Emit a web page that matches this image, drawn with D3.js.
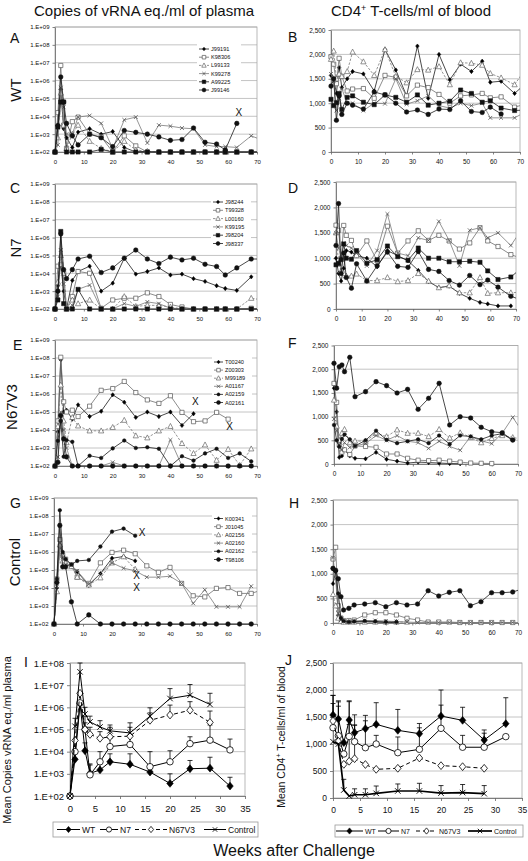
<!DOCTYPE html>
<html><head><meta charset="utf-8">
<script src="https://cdn.jsdelivr.net/npm/d3@7"></script>
<style>body{margin:0;background:#fff}svg{display:block}</style>
</head><body>
<svg id="chart" width="528" height="861"></svg>
<script>
// ---------------- DATA ----------------
const weeksAD = [0,1,2,3,4,6,8,12,16,20,24,28,32,36,40,44,48,52,56,59,63,68,72];
const weeksEH = [0,1,2,3,4,6,8,12,16,20,24,28,32,36,40,44,48,52,56,60,64,68,72];
const weeksMean = [0,1,2,3,4,6,8,12,16,20,24,28,32];

const logTicks = [1e2,1e3,1e4,1e5,1e6,1e7,1e8,1e9];
const meanLogTicks = [1e2,1e3,1e4,1e5,1e6,1e7,1e8];
const cd4Ticks = [0,500,1000,1500,2000,2500];
const weekTicks70 = [0,10,20,30,40,50,60,70];
const weekTicks35 = [0,5,10,15,20,25,30,35];

const namesA = ["J99191","K98306","L99133","K99278","A99225","J99146"];
const namesC = ["J98244","T99328","L00160","K99195","J98204","J98337"];
const namesE = ["T00240","Z00303","M99189","A01167","A02159","A02161"];
const namesG = ["K00341","J01045","A02156","A02160","A02162","T98106"];
const groupNames = ["WT","N7","N67V3","Control"];

// A: WT viral load
const A_J99191 = [100,3200,3.2e5,2000,630,180,1300,2000,1000,1400,180,100,110,100,100,100,100,100,100,100,100,100,100];
const A_K98306 = [100,1.6e4,7e6,3200,160,5000,9000,1000,700,100,800,220,100,100,100,100,100,100,100,100,100,100,100];
const A_L99133 = [100,630,2e5,3200,160,1000,3200,400,160,100,400,130,110,100,100,100,100,100,100,100,100,100,100];
const A_K99278 = [100,250,4e5,3.2e4,1000,1000,9000,1.1e4,4000,160,6300,9000,320,3200,2800,2200,2000,250,200,200,180,800,450];
const A_A99225 = [100,2500,6.3e4,6.3e4,100,100,100,100,140,100,100,100,100,100,100,100,100,100,100,100,100,100,100];
const A_J99146 = [100,3000,1.6e6,6.3e4,4000,800,250,1000,630,200,1600,1260,1000,700,450,500,2200,350,280,130,4000];
const A_deaths_w = [63.7];
const A_deaths_v = [1.6e4];

// B: WT CD4
const B_J99191 = [1570,1500,1200,1730,1320,1500,1650,1600,1250,2100,1680,1150,2170,1100,2000,1480,1800,1650,1860,1430,1450,1200,1400];
const B_K98306 = [1950,1800,1400,1920,1550,1250,1290,1300,1100,1570,1530,1150,1370,1320,1180,1000,1150,1170,1200,1110,1130,920,980];
const B_L99133 = [1900,2070,1500,1600,1550,1650,2050,1850,1570,2100,1550,1420,1690,1680,1750,1380,1830,1820,1780,1610,1520,1380,1700];
const B_K99278 = [1600,1450,850,1100,1300,1000,1000,850,1000,990,1500,980,1050,1150,950,900,1000,950,1000,700,700,700,820];
const B_A99225 = [1080,950,1010,1200,870,1120,1150,1020,970,1170,1120,1020,1170,960,1000,1040,1270,1200,1020,1050,900,850,860];
const B_J99146 = [1350,1500,650,1150,770,1000,960,880,1230,1170,1000,820,860,770,880,870,1050,830,810,920,780];

// C: N7 viral load
const C_J98244 = [100,2000,3.2e4,1000,100,4000,1.26e4,2.5e4,1000,2800,7e4,9000,1.26e4,2e4,8000,9000,5000,3500,2000,1400,1100,6300];
const C_T99328 = [100,2.5e4,3.2e4,1e4,100,500,1.26e4,1e4,110,320,400,400,800,500,180,130,100,100,100,100,100,110,100];
const C_L00160 = [100,3200,1e5,1e4,100,320,200,320,100,100,500,140,160,160,130,100,100,100,100,100,100,400,320];
const C_K99195 = [100,500,2e5,2500,100,160,1260,2200,100,100,200,140,250,200,110,100,100,100,100,100,100,100,100];
const C_J98204 = [100,320,2.2e6,200,100,100,1260,100,100,100,100,100,100,100,100,100,100,100,100,100,100,100,100];
const C_J98337 = [100,1000,1.6e6,1.6e4,5000,1.6e4,6.3e4,9e4,1.1e4,2e4,7e4,2e5,6.3e4,3.5e4,8e4,5.6e4,7e4,3.2e4,2.4e4,8000,2e4,6.3e4,6.3e4];

// D: N7 CD4
const D_J98244 = [1000,700,550,800,1150,1120,1050,1000,830,1150,1050,950,760,540,420,450,310,210,130,100,60,60];
const D_T99328 = [1650,1550,1000,1645,1450,1350,1050,1340,950,1630,1100,1340,1540,1350,1450,1340,1180,1300,1600,1340,1230,1070,1000];
const D_L00160 = [1500,900,750,700,650,650,690,560,560,620,540,560,700,550,420,460,320,320,620,310,320,320,330];
const D_K99195 = [1500,1200,1000,1300,1250,1200,1100,850,1150,1870,1100,1050,1400,1350,1725,1350,850,1550,1600,1400,1500,1250,1550];
const D_J98204 = [870,900,970,1280,1000,980,1150,900,970,1240,1030,960,1200,1000,1000,930,930,940,920,750,580,630,800];
const D_J98337 = [1250,2075,700,1100,620,410,890,550,850,1120,840,820,1130,780,740,560,470,660,480,570,430,250,180];

// E: N67V3 viral load
const E_T00240 = [100,8000,8e7,1e5,1.26e5,4e4,2.5e5,5.6e4,1.1e5,9e5,3.5e5,5e4,1e5,5.6e4,1e5,1.8e4,8e4];
const E_Z00303 = [100,3.2e4,1.1e8,3.7e5,1e5,1.26e5,5.6e4,2.1e5,1.6e6,2e6,5e6,1.2e6,4.7e5,3e5,8e5,9.5e4,2.9e4,3.2e4,9.5e4,4e4];
const E_M99189 = [100,1.6e4,3.2e6,3.2e4,2000,5e4,1.7e4,9000,9000,1.4e4,3.5e4,4800,3700,9000,1.6e4,1800,500,1500,210,850,110,900];
const E_A01167 = [100,320,1e5,1e4,1000,100,100,100,100,160,100,100,100,100,2800,100,100,100,100,100,100,100];
const E_A02159 = [100,2500,3.2e4,330,2800,2200,100,370,280,950,2600,1000,1100,900,100,350,200,500,900,280,500,180];
const E_A02161 = [100,160,6.3e4,3200,320,100,100,100,100,100,100,100,100,100,100,100,100,100,100,100,100,100];
const E_deaths_w = [48.6, 60.5];
const E_deaths_v = [3.7e5, 1.6e4];

// F: N67V3 CD4
const F_T00240 = [1600,1100,140,170,300,170,120,110,246,100,60,20,40,30,20,10,5];
const F_Z00303 = [1700,1300,400,250,300,200,380,370,352,211,211,120,80,70,80,60,40,20,15,10];
const F_M99189 = [1350,800,500,650,731,450,485,480,648,580,720,650,650,580,731,550,660,560,450,540,600,560,520];
const F_A01167 = [950,700,400,300,450,350,380,430,600,500,600,480,450,330,480,370,290,580,490,430,650,985,650];
const F_A02159 = [823,500,365,530,620,520,380,500,703,510,440,480,520,440,600,420,600,580,520,600,640,500];
const F_A02161 = [2124,1600,2053,2089,1948,2251,1420,1526,1737,1653,1498,1575,1154,1386,1702,823,998,970,774,681,660,506];

// G: Control viral load
const G_K00341 = [100,1e4,2e6,8e5,2e5,1.6e5,8e4,1.4e4,6.3e4,4.5e5,5.6e5,3.2e5];
const G_J01045 = [100,3.2e4,5e6,6.3e5,4e5,2e5,4e4,1.8e4,2.5e5,9.5e5,1.26e6,8e5,1.7e5,7.4e4,1.4e5,1.8e4,3700,3200,9500,1.05e4,5000,5000,8000];
const G_A02156 = [100,6300,2.5e6,3.2e5,2.5e5,1.6e5,4e4,1.5e4,3.7e4,2.5e5,5.5e5,1.1e5];
const G_A02160 = [100,1.6e4,3.2e6,5e5,2e5,1.8e5,9e4,1.6e4,6.3e4,2.5e5,1.26e5,9e4,4e4,4e4,4.5e4,1.8e4,1400,8000,900,900,900,1.26e4];
const G_A02162 = [100,3.2e4,2.1e8,1e6,4e5,2e5,3.2e5,3.6e5,2e6,1.35e7,2e7,8e6];
const G_T98106 = [100,2e4,3e7,1.5e5,1.5e5,1700,100,320,100,100,100,100,100,100,100,100,100,100,100,100,100,100];
const G_deaths_w = [30.4, 28.5, 28.5];
const G_deaths_v = [1.2e7, 5.2e4, 1.15e4];

// H: Control CD4
const H_K00341 = [800,1050,150,30,20,20,20,30,20,10,10];
const H_J01045 = [1300,1539,350,100,50,50,60,163,209,209,163,96,61,20,20,20,10,10,10,10,10,10];
const H_A02156 = [580,350,100,30,20,20,20,20,20,20,20,20];
const H_A02160 = [1330,900,200,60,30,20,40,50,50,40,30,20,10,10,10,10,10,10,10,10,10,10,10];
const H_A02162 = [1100,1050,600,100,40,20,30,40,30,20,20];
const H_T98106 = [1111,1070,900,535,264,298,366,386,413,331,413,366,386,657,549,623,657,352,433,616,616,630,700];

// I: mean viral load (with upper error)
const I_WT = [100,4500,1.5e6,1.1e4,1050,1500,3500,2700,1200,370,1700,1800,280];
const I_WT_err = [null,null,null,2.5e4,2500,3200,8000,8000,2500,1000,4000,5600,700];
const I_N7 = [100,1e4,1.6e6,1e5,900,3500,1.7e4,2.1e4,2100,3500,2.3e4,3.3e4,1.2e4];
const I_N7_err = [null,null,null,2e5,2800,1e4,4e4,5e4,1e4,1.1e4,4.7e4,1.6e5,3.7e4];
const I_N67V3 = [100,3.2e4,4.3e6,1e5,6e4,4e4,4.7e4,5e4,2.6e5,4.5e5,7.4e5,2.1e5];
const I_N67V3_err = [null,null,null,4e5,1.26e5,8e4,1.26e5,1.26e5,5.6e5,1.26e6,1.8e6,6.8e5];
const I_Control = [100,1.4e5,4e7,5e5,2.2e5,1.3e5,8.7e4,7e4,4e5,2.5e6,3.5e6,1.35e6];
const I_Control_err = [null,3.2e5,1e8,1e6,4e5,2.5e5,1.6e5,2e5,9.5e5,7e6,1.07e7,4.3e6];

// J: mean CD4 (with upper error)
const J_WT = [1537,1463,1025,1444,1210,1284,1364,1253,1191,1518,1438,1074,1376];
const J_WT_err = [1900,1800,null,1784,1540,1530,1765,1640,1380,2000,1680,1260,1857];
const J_N7 = [1302,1154,815,1140,1043,932,1000,839,901,1290,940,940,1136];
const J_N7_err = [1750,1700,null,1360,1350,1430,1160,1130,1300,1720,1160,1200,null];
const J_N67V3 = [1426,1050,623,680,728,620,531,550,741,599,580,550];
const J_N67V3_err = [1900,1780,null,1800,1350];
const J_Control = [1043,1000,148,37,60,60,86,130,130,90,100,80];
const J_Control_err = [null,null,346,null,170,170,222,260,272,230,250,230];

// ---------------- STYLES ----------------
const FONT = "Arial, 'Liberation Sans', Helvetica, sans-serif";
const sDiam = {shape:"diamond", size:3.6, fill:"#000", stroke:"#000", sw:0.5, line:"#1a1a1a", lw:0.8};
const sOSq  = {shape:"square", size:4.2, fill:"#fff", stroke:"#555", sw:0.7, line:"#707070", lw:0.8};
const sOTri = {shape:"triangle", size:5, fill:"#fff", stroke:"#666", sw:0.7, line:"#7a7a7a", lw:0.8, dash:"2.5,1.5"};
const sX    = {shape:"x", size:3.8, fill:"none", stroke:"#555", sw:0.8, line:"#7a7a7a", lw:0.8};
const sFSq  = {shape:"square", size:4.2, fill:"#111", stroke:"#111", sw:0.5, line:"#1a1a1a", lw:0.8};
const sFCir = {shape:"circle", size:4.6, fill:"#111", stroke:"#111", sw:0.5, line:"#1a1a1a", lw:0.8};
const sFCirS= {shape:"circle", size:3.6, fill:"#111", stroke:"#111", sw:0.5, line:"#1a1a1a", lw:0.8};
const stylesAC = [sDiam, sOSq, sOTri, sX, sFSq, sFCir];
const stylesEG = [sDiam, sOSq, sOTri, sX, sFCirS, sFCir];
const meanStyles = [
  {shape:"diamond", size:6.5, fill:"#000", stroke:"#000", sw:0.6, line:"#000", lw:1},
  {shape:"circle", size:6.5, fill:"#fff", stroke:"#000", sw:0.8, line:"#000", lw:1},
  {shape:"diamond", size:6.5, fill:"#fff", stroke:"#000", sw:0.8, line:"#000", lw:1, dash:"4,3"},
  {shape:"x", size:5.5, fill:"none", stroke:"#000", sw:0.9, line:"#000", lw:1}
];

const svg = d3.select("#chart");
const defs = svg.append("defs");
const logFmt = v => "1.E+" + String(Math.round(Math.log10(v))).padStart(2, "0");
const cdFmt = d3.format(",");

function markerPath(shape, s) {
  const h = s / 2;
  switch (shape) {
    case "circle": return d3.symbol(d3.symbolCircle, Math.PI * h * h)();
    case "square": return `M${-h},${-h}H${h}V${h}H${-h}Z`;
    case "triangle": return `M0,${-h*1.15}L${h*1.05},${h*0.85}L${-h*1.05},${h*0.85}Z`;
    case "diamond": return `M0,${-h*1.2}L${h},0L0,${h*1.2}L${-h},0Z`;
    case "x": return `M${-h},${-h}L${h},${h}M${-h},${h}L${h},${-h}`;
  }
}

function drawSeries(body, x, y, weeks, values, st, xmax) {
  const pts = weeks.map((w, j) => ({w, v: (values[j] === undefined ? null : values[j])}));
  const line = d3.line().defined(d => d.v !== null).x(d => x(d.w)).y(d => y(d.v));
  body.append("path").datum(pts).attr("d", line).attr("fill", "none")
    .attr("stroke", st.line).attr("stroke-width", st.lw)
    .attr("stroke-dasharray", st.dash || null);
  body.append("g").selectAll("path").data(pts.filter(d => d.v !== null && d.w <= xmax)).join("path")
    .attr("d", markerPath(st.shape, st.size))
    .attr("transform", d => `translate(${x(d.w)},${y(d.v)})`)
    .attr("fill", st.fill).attr("stroke", st.stroke).attr("stroke-width", st.sw);
}

let clipId = 0;
function drawPanel(p) {
  const g = svg.append("g");
  const x = d3.scaleLinear().domain(p.xDomain).range([p.x0, p.x1]);
  const y = (p.log ? d3.scaleLog() : d3.scaleLinear()).domain(p.yDomain).range([p.y1, p.y0]);
  g.append("rect").attr("x", p.x0).attr("y", p.y0).attr("width", p.x1 - p.x0).attr("height", p.y1 - p.y0)
    .attr("fill", "#fff");
  g.append("g").selectAll("line").data(p.yTicks.slice(1)).join("line")
    .attr("x1", p.x0).attr("x2", p.x1).attr("y1", d => y(d)).attr("y2", d => y(d))
    .attr("stroke", "#c4c4c4").attr("stroke-width", 1);
  g.append("rect").attr("x", p.x0).attr("y", p.y0).attr("width", p.x1 - p.x0).attr("height", p.y1 - p.y0)
    .attr("fill", "none").attr("stroke", "#a8a8a8").attr("stroke-width", 0.8);
  const styleAxis = s => {
    s.selectAll("text").attr("font-size", p.fs).attr("font-family", FONT).attr("fill", "#111");
    s.select(".domain").attr("stroke", "#666").attr("stroke-width", 0.8);
    s.selectAll(".tick line").attr("stroke", "#666").attr("stroke-width", 0.8);
  };
  g.append("g").attr("transform", `translate(${p.x0},0)`)
    .call(d3.axisLeft(y).tickValues(p.yTicks).tickFormat(p.yFmt).tickSize(p.tick).tickPadding(p.pad).tickSizeOuter(0))
    .call(styleAxis);
  g.append("g").attr("transform", `translate(0,${p.y1})`)
    .call(d3.axisBottom(x).tickValues(p.xTicks).tickSize(p.tick).tickPadding(p.xpad).tickSizeOuter(0))
    .call(styleAxis);
  const id = "clip" + (clipId++);
  defs.append("clipPath").attr("id", id).append("rect")
    .attr("x", p.x0 - 6).attr("y", p.y0 - 12).attr("width", p.x1 - p.x0 + 6).attr("height", p.y1 - p.y0 + 20);
  const body = g.append("g").attr("clip-path", `url(#${id})`);
  p.series.forEach((vals, i) => {
    if (p.errors && p.errors[i]) {
      const errs = p.errors[i];
      const eg = body.append("g").attr("stroke", "#000").attr("stroke-width", 0.8);
      p.weeks.forEach((w, j) => {
        const e = errs[j];
        if (e === null || e === undefined || vals[j] === undefined || vals[j] === null) return;
        eg.append("line").attr("x1", x(w)).attr("x2", x(w)).attr("y1", y(vals[j])).attr("y2", y(e));
        eg.append("line").attr("x1", x(w) - 2.5).attr("x2", x(w) + 2.5).attr("y1", y(e)).attr("y2", y(e));
      });
    }
  });
  p.series.forEach((vals, i) => drawSeries(body, x, y, p.weeks, vals, p.styles[i], p.xDomain[1]));
  if (p.deathsW) {
    g.append("g").selectAll("text").data(p.deathsW).join("text")
      .attr("x", d => x(d)).attr("y", (d, i) => y(p.deathsV[i]) + 3.6)
      .attr("text-anchor", "middle").attr("font-family", FONT).attr("font-size", 10).attr("fill", "#111")
      .text("X");
  }
  if (p.legend) {
    const L = p.legend;
    const lg = g.append("g");
    lg.append("rect").attr("x", L.x - 2).attr("y", L.y - 5).attr("width", L.w).attr("height", L.step * p.names.length + 3)
      .attr("fill", "#fff");
    p.names.forEach((n, i) => {
      const st = p.styles[i];
      const yy = L.y + i * L.step;
      lg.append("line").attr("x1", L.x).attr("x2", L.x + L.len).attr("y1", yy).attr("y2", yy)
        .attr("stroke", st.line).attr("stroke-width", st.lw).attr("stroke-dasharray", st.dash || null);
      lg.append("path").attr("d", markerPath(st.shape, st.size * 0.85))
        .attr("transform", `translate(${L.x + L.len / 2},${yy})`)
        .attr("fill", st.fill).attr("stroke", st.stroke).attr("stroke-width", st.sw);
      lg.append("text").attr("x", L.x + L.len + 2).attr("y", yy + 2)
        .attr("font-family", FONT).attr("font-size", 5.6).attr("fill", "#111").text(n);
    });
  }
  return {x, y};
}

const leftBase = {xDomain:[0,70], xTicks:weekTicks70, log:true, yDomain:[1e2,1e9], yTicks:logTicks, yFmt:logFmt,
  fs:6, tick:2.5, pad:3, xpad:5};
const rightBase = {xDomain:[0,70], xTicks:weekTicks70, log:false, yDomain:[0,2500], yTicks:cd4Ticks, yFmt:cdFmt,
  fs:6.5, tick:2.5, pad:3, xpad:5};

drawPanel({...leftBase, x0:55, x1:257, y0:27, y1:152, weeks:weeksAD, styles:stylesAC, names:namesA,
  series:[A_J99191,A_K98306,A_L99133,A_K99278,A_A99225,A_J99146],
  legend:{x:199, y:49, step:8.2, len:10, w:44}, deathsW:A_deaths_w, deathsV:A_deaths_v});
drawPanel({...rightBase, x0:331, x1:520, y0:30, y1:152, weeks:weeksAD, styles:stylesAC,
  series:[B_J99191,B_K98306,B_L99133,B_K99278,B_A99225,B_J99146]});
drawPanel({...leftBase, x0:55, x1:257, y0:184, y1:309, weeks:weeksAD, styles:stylesAC, names:namesC,
  series:[C_J98244,C_T99328,C_L00160,C_K99195,C_J98204,C_J98337],
  legend:{x:213, y:202, step:8.3, len:10, w:40}});
drawPanel({...rightBase, x0:336, x1:516, y0:182, y1:309, weeks:weeksAD, styles:stylesAC,
  series:[D_J98244,D_T99328,D_L00160,D_K99195,D_J98204,D_J98337]});
drawPanel({...leftBase, x0:55, x1:257, y0:340, y1:466, weeks:weeksEH, styles:stylesEG, names:namesE,
  series:[E_T00240,E_Z00303,E_M99189,E_A01167,E_A02159,E_A02161],
  legend:{x:214, y:362, step:8.1, len:9, w:40}, deathsW:E_deaths_w, deathsV:E_deaths_v});
drawPanel({...rightBase, x0:334, x1:518, y0:345.5, y1:464, weeks:weeksEH, styles:stylesEG,
  series:[F_T00240,F_Z00303,F_M99189,F_A01167,F_A02159,F_A02161]});
drawPanel({...leftBase, x0:54, x1:257, y0:498, y1:624, weeks:weeksEH, styles:stylesEG, names:namesG,
  series:[G_K00341,G_J01045,G_A02156,G_A02160,G_A02162,G_T98106],
  legend:{x:214, y:518.5, step:8.2, len:9, w:40}, deathsW:G_deaths_w, deathsV:G_deaths_v});
drawPanel({...rightBase, x0:333, x1:518, y0:500, y1:623, weeks:weeksEH, styles:stylesEG,
  series:[H_K00341,H_J01045,H_A02156,H_A02160,H_A02162,H_T98106]});

// Mean panels
drawPanel({xDomain:[0,35], xTicks:weekTicks35, log:true, yDomain:[1e2,1e8], yTicks:meanLogTicks, yFmt:logFmt,
  fs:9.5, tick:3, pad:3, xpad:6, x0:70, x1:245, y0:663, y1:796, weeks:weeksMean, styles:meanStyles,
  series:[I_WT,I_N7,I_N67V3,I_Control], errors:[I_WT_err,I_N7_err,I_N67V3_err,I_Control_err]});
const jStyles = meanStyles.map((s, i) => i === 3 ? {...s, lw:1.7} : s);
drawPanel({xDomain:[0,35], xTicks:weekTicks35, log:false, yDomain:[0,2500], yTicks:cd4Ticks, yFmt:cdFmt,
  fs:8.5, tick:3, pad:3, xpad:6, x0:333, x1:522, y0:663, y1:798, weeks:weeksMean, styles:jStyles,
  series:[J_WT,J_N7,J_N67V3,J_Control], errors:[J_WT_err,J_N7_err,J_N67V3_err,J_Control_err]});

// mean legends
function meanLegend(bx, by, bw, bh, items, fs, styles) {
  const lg = svg.append("g");
  lg.append("rect").attr("x", bx).attr("y", by).attr("width", bw).attr("height", bh)
    .attr("fill", "#fff").attr("stroke", "#999").attr("stroke-width", 0.8);
  const cy = by + bh / 2;
  items.forEach((it, i) => {
    const st = styles[i];
    lg.append("line").attr("x1", it[0]).attr("x2", it[1]).attr("y1", cy).attr("y2", cy)
      .attr("stroke", st.line).attr("stroke-width", st.lw).attr("stroke-dasharray", st.dash || null);
    lg.append("path").attr("d", markerPath(st.shape, st.size * 0.8))
      .attr("transform", `translate(${(it[0] + it[1]) / 2},${cy})`)
      .attr("fill", st.fill).attr("stroke", st.stroke).attr("stroke-width", st.sw);
    lg.append("text").attr("x", it[1] + 2).attr("y", cy + fs * 0.36).attr("font-family", FONT)
      .attr("font-size", fs).attr("fill", "#111").text(groupNames[i]);
  });
}
meanLegend(53, 822, 205, 15, [[57,80],[100,118],[135,167],[204,226]], 8.5, meanStyles);
meanLegend(335, 825, 188, 12, [[336,363],[378,399],[416,437],[468,492]], 7, jStyles);

// ---------------- TEXT ----------------
const T = (x, y, s, fs, anchor, rot) => {
  const t = svg.append("text").attr("font-family", FONT).attr("font-size", fs).attr("fill", "#111")
    .attr("text-anchor", anchor || "start");
  if (rot) t.attr("transform", `translate(${x},${y}) rotate(-90)`); else t.attr("x", x).attr("y", y);
  t.text(s);
  return t;
};
T(144, 16, "Copies of vRNA eq./ml of plasma", 15, "middle");
const t2 = svg.append("text").attr("x", 411).attr("y", 16).attr("font-family", FONT).attr("font-size", 15)
  .attr("fill", "#111").attr("text-anchor", "middle");
t2.append("tspan").text("CD4");
t2.append("tspan").attr("dy", -5).attr("font-size", 9).text("+");
t2.append("tspan").attr("dy", 5).text(" T-cells/ml of blood");

[["A",10,43],["B",288,42],["C",10,193],["D",288,193],["E",13,350],["F",288,348],["G",10,508],["H",289,508],["I",24,667],["J",285,665]]
  .forEach(d => T(d[1], d[2], d[0], 14));

T(21, 90, "WT", 15, "middle", true);
T(21, 248, "N7", 15, "middle", true);
T(17, 407, "N67V3", 15, "middle", true);
T(20, 562, "Control", 15, "middle", true);

T(294, 856, "Weeks after Challenge", 16, "middle");
T(10.5, 740, "Mean Copies vRNA eq./ml plasma", 11, "middle", true);
const jl = svg.append("text").attr("transform", "translate(285,737) rotate(-90)").attr("font-family", FONT)
  .attr("font-size", 10.5).attr("fill", "#111").attr("text-anchor", "middle");
jl.append("tspan").text("Mean CD4");
jl.append("tspan").attr("dy", -4).attr("font-size", 7).text("+");
jl.append("tspan").attr("dy", 4).text(" T-cells/ml of blood");
</script>
</body></html>
